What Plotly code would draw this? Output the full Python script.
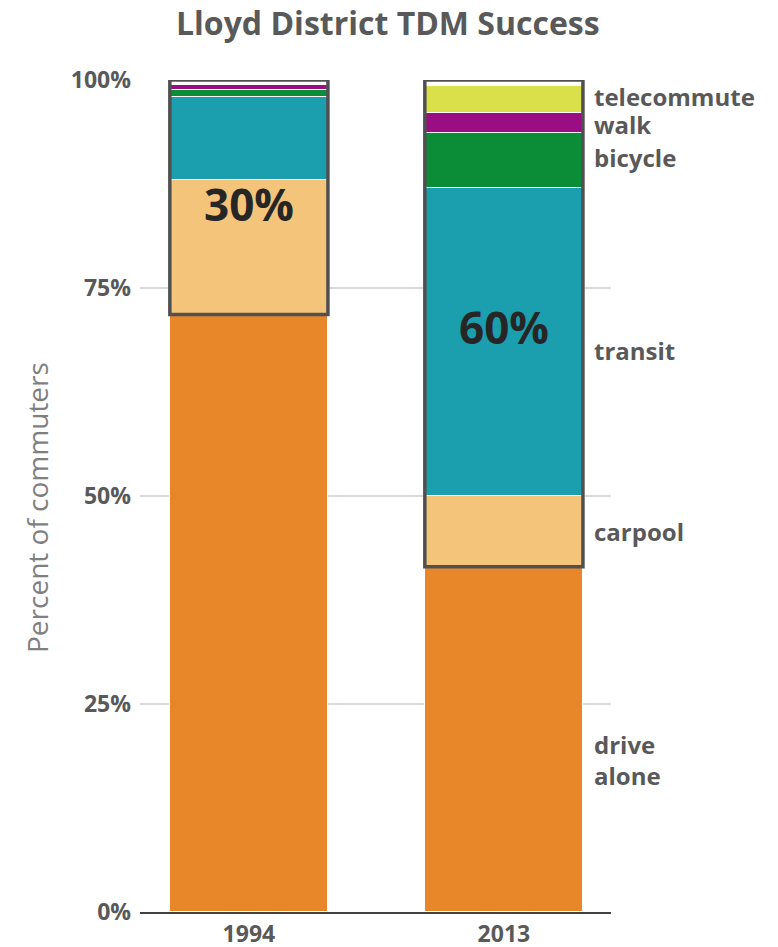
import plotly.graph_objects as go

years = ["1994", "2013"]
modes = ["drive alone", "carpool", "transit", "bicycle", "walk", "telecommute"]
labels = ["drive<br>alone", "carpool", "transit", "bicycle", "walk", "telecommute"]
drive_alone = [71.8, 41.5]
carpool = [16.2, 8.5]
transit = [10.0, 37.0]
bicycle = [0.8, 6.6]
walk = [0.6, 2.4]
telecommute = [0.0, 3.3]
colors = ["#E8862A", "#F3C47A", "#1B9EAE", "#0B8C37", "#9B0D84", "#D9E04A"]
box_labels = ["30%", "60%"]
y_ticks = [0, 25, 50, 75, 100]
y_ticktext = ["0%", "25%", "50%", "75%", "100%"]

series = [drive_alone, carpool, transit, bicycle, walk, telecommute]

fig = go.Figure()
for name, vals, col in zip(modes, series, colors):
    fig.add_trace(go.Bar(x=years, y=vals, name=name, marker=dict(color=col, line=dict(color="white", width=1.5)),
                         width=0.62, hoverinfo="skip"))

gray = "#595959"
box_shift = [-7, -4]
# boxes around non-drive-alone share
for i, yr in enumerate(years):
    fig.add_shape(type="rect", xref="x", yref="y", x0=i - 0.31, x1=i + 0.31,
                  y0=drive_alone[i], y1=100, line=dict(color="#505050", width=3.5), layer="above")
    fig.add_annotation(x=i, y=(drive_alone[i] + 100) / 2, xref="x", yref="y", text=box_labels[i],
                       showarrow=False, yshift=box_shift[i],
                       font=dict(family="Open Sans", size=44, color="#262626", weight="bold"))

# right-side labels for 2013
cum = 0
shifts = {"drive<br>alone": -21, "transit": -8, "telecommute": 3, "walk": -1, "bicycle": 3}
for lab, vals in zip(labels, series):
    mid = cum + vals[1] / 2
    cum += vals[1]
    fig.add_annotation(x=1.345, y=mid, xref="x", yref="y", text=lab, showarrow=False, xanchor="left",
                       yshift=shifts.get(lab, 0), align="left",
                       font=dict(family="Open Sans", size=24, color=gray, weight="bold"))

W, H, L, R, T, B = 770, 939, 132, 167, 72, 35
pw, ph = W - L - R, H - T - B

fig.add_annotation(xref="paper", yref="paper", x=(29 - L) / pw, y=(H - B - 500) / ph, text="Percent of commuters",
                   xanchor="center", yanchor="middle",
                   textangle=-90, showarrow=False, font=dict(family="Open Sans", size=28, color="#7f7f7f"))

fig.add_annotation(xref="paper", yref="paper", x=(380 - L) / pw, y=(H - B - 15) / ph, xanchor="center",
                   yanchor="middle", text="Lloyd District TDM Success", showarrow=False,
                   font=dict(family="Open Sans", size=32, color=gray, weight="bold"))

fig.update_layout(
    width=W, height=H,
    barmode="stack", bargap=0,
    showlegend=False,
    plot_bgcolor="white", paper_bgcolor="white",
    margin=dict(l=L, r=R, t=T, b=B, autoexpand=False),
    xaxis=dict(type="category", range=[-0.427, 1.42], showline=True, linecolor="#404040", linewidth=2,
               automargin=False,
               tickfont=dict(family="Open Sans", size=23, color=gray, weight="bold"), ticks="", showgrid=False),
    yaxis=dict(range=[0, 100], tickmode="array", tickvals=y_ticks, ticktext=y_ticktext, showgrid=True,
               automargin=False,
               gridcolor="#d9d9d9", gridwidth=1.5, zeroline=False, ticks="", ticklabelstandoff=8,
               tickfont=dict(family="Open Sans", size=23, color=gray, weight="bold")),
)

fig.write_html("out.html")
